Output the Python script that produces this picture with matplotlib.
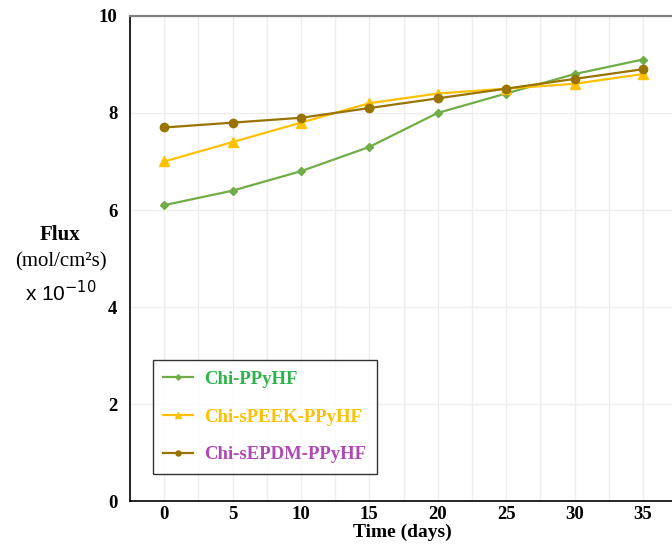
import matplotlib.pyplot as plt
from matplotlib.ticker import MultipleLocator

# data
days = [0, 5, 10, 15, 20, 25, 30, 35]
chi_ppyhf = [6.1, 6.4, 6.8, 7.3, 8.0, 8.4, 8.8, 9.1]
chi_speek = [7.0, 7.4, 7.8, 8.2, 8.4, 8.5, 8.6, 8.8]
chi_sepdm = [7.7, 7.8, 7.9, 8.1, 8.3, 8.5, 8.7, 8.9]
labels = ['Chi-PPyHF', 'Chi-sPEEK-PPyHF', 'Chi-sEPDM-PPyHF']
yticks = [0, 2, 4, 6, 8, 10]
xticks = [0, 5, 10, 15, 20, 25, 30, 35]

serif = 'Liberation Serif'

fig = plt.figure(figsize=(6.72, 5.45), dpi=100)
ax = fig.add_axes([0.1935, 0.080, 0.81, 0.891])

l1, = ax.plot(days, chi_ppyhf, color='#70AD47', lw=1.6, marker='D', ms=4.5)
l2, = ax.plot(days, chi_speek, color='#FFC000', lw=1.6, marker='^', ms=6.5)
l3, = ax.plot(days, chi_sepdm, color='#997300', lw=1.6, marker='o', ms=6)

ax.set_xlim(-2.5, 37.3)
ax.set_ylim(0, 10)
ax.set_xticks(xticks)
ax.set_yticks(yticks)
ax.xaxis.set_minor_locator(MultipleLocator(2.5))
ax.grid(True, which='both', axis='x', color='#EEEEEE', lw=1)
ax.grid(True, which='major', axis='y', color='#EEEEEE', lw=1)
ax.set_axisbelow(True)
ax.tick_params(which='both', length=0)
ax.tick_params(axis='x', pad=3)
ax.tick_params(axis='y', pad=9)
for t in ax.get_xticklabels() + ax.get_yticklabels():
    t.set_fontfamily(serif)
    t.set_fontweight('bold')
    t.set_fontsize(13.5)

ax.spines['right'].set_visible(False)
ax.spines['top'].set_color('#808080')
ax.spines['top'].set_linewidth(1.6)
ax.spines['left'].set_color('black')
ax.spines['bottom'].set_color('black')
ax.spines['left'].set_linewidth(1.2)
ax.spines['bottom'].set_linewidth(1.2)

ax.set_xlabel('Time (days)', fontfamily=serif, fontweight='bold', fontsize=14, labelpad=1)

fig.text(0.09, 0.568, 'Flux', fontfamily=serif, fontweight='bold', fontsize=15, ha='center', va='center')
fig.text(0.09, 0.519, '(mol/cm\u00b2s)', fontfamily=serif, fontsize=15, ha='center', va='center')
fig.text(0.09, 0.463, 'x 10$^{-10}$', fontfamily='Liberation Sans', fontsize=15, ha='center', va='center')

leg = ax.legend([l1, l2, l3], labels, loc='lower left', bbox_to_anchor=(0.042, 0.057),
                frameon=True, fancybox=False, edgecolor='black', borderpad=0.55,
                labelspacing=1.1, handlelength=1.6, handletextpad=0.6, markerscale=0.6,
                borderaxespad=0, prop={'family': serif, 'weight': 'bold', 'size': 13.5})
leg.get_frame().set_linewidth(1)
for txt, c in zip(leg.get_texts(), ['#2DB34A', '#FFC000', '#B048B5']):
    txt.set_color(c)

plt.savefig('out.png', dpi=100)
